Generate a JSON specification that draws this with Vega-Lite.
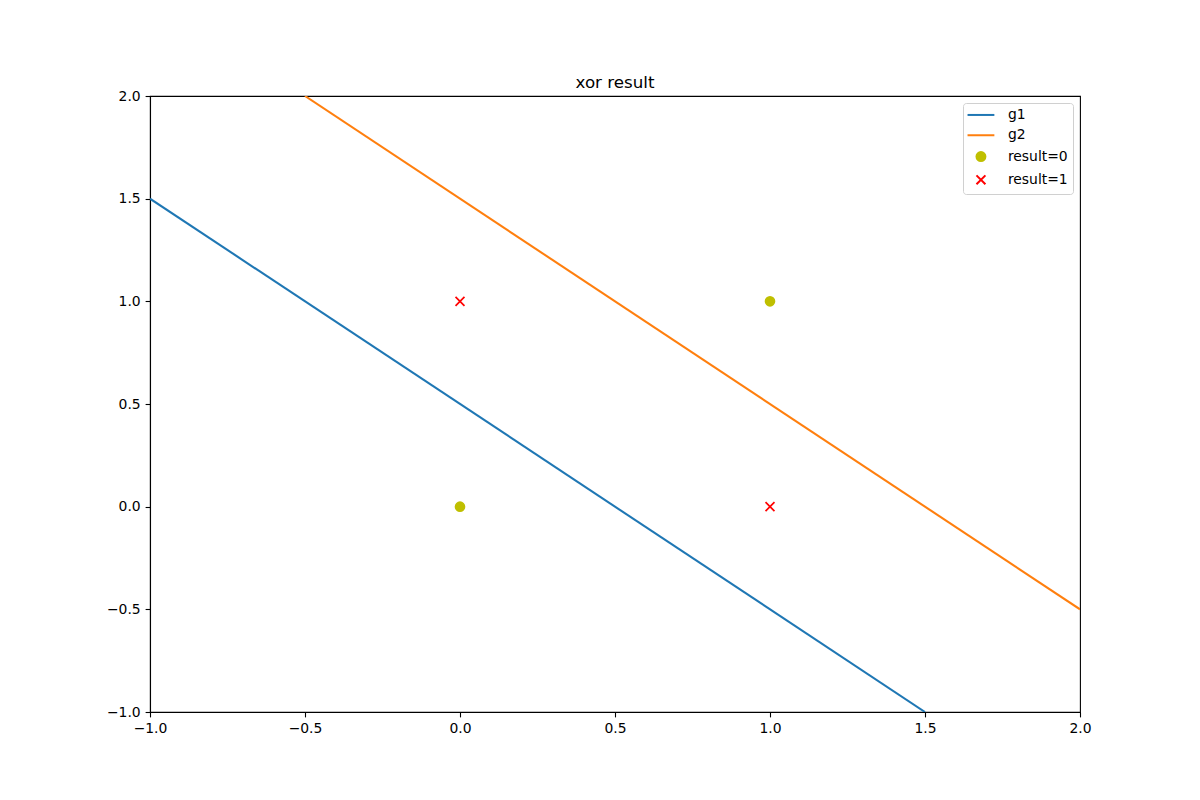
{
  "$schema": "https://vega.github.io/schema/vega-lite/v6.json",
  "autosize": "none",
  "width": 930,
  "height": 616,
  "padding": {"left": 150, "top": 96, "right": 120, "bottom": 88},
  "background": "white",
  "title": {"text": "xor result", "font": "DejaVu Sans", "fontSize": 16.7, "fontWeight": "normal", "color": "black", "offset": -3},
  "datasets": {
    "lines": [
      {"x": -1.0, "y": 1.5, "series": "g1"},
      {"x": 1.5, "y": -1.0, "series": "g1"},
      {"x": -0.5, "y": 2.0, "series": "g2"},
      {"x": 2.0, "y": -0.5, "series": "g2"}
    ],
    "points": [
      {"x": 0, "y": 0, "series": "result=0"},
      {"x": 1, "y": 1, "series": "result=0"},
      {"x": 0, "y": 1, "series": "result=1"},
      {"x": 1, "y": 0, "series": "result=1"}
    ]
  },
  "layer": [
    {
      "data": {"name": "lines"},
      "mark": {"type": "line", "strokeWidth": 2.08, "clip": true},
      "encoding": {
        "x": {"field": "x", "type": "quantitative", "scale": {"domain": [-1, 2], "zero": false},
          "axis": {"values": [-1, -0.5, 0, 0.5, 1, 1.5, 2], "format": ".1f"}},
        "y": {"field": "y", "type": "quantitative", "scale": {"domain": [-1, 2], "zero": false},
          "axis": {"values": [-1, -0.5, 0, 0.5, 1, 1.5, 2], "format": ".1f"}},
        "color": {"field": "series", "type": "nominal", "legend": null,
          "scale": {"domain": ["g1", "g2"], "range": ["#1f77b4", "#ff7f0e"]}}
      }
    },
    {
      "data": {"name": "points"},
      "mark": {"type": "point", "size": 80, "strokeWidth": 1.7, "opacity": 1},
      "encoding": {
        "x": {"field": "x", "type": "quantitative"},
        "y": {"field": "y", "type": "quantitative"},
        "fill": {"field": "series", "type": "nominal", "legend": {"title": null},
          "scale": {"domain": ["g1", "g2", "result=0", "result=1"], "range": ["#1f77b4", "#ff7f0e", "#bfbf00", "#ff0000"]}},
        "stroke": {"field": "series", "type": "nominal", "legend": {"title": null},
          "scale": {"domain": ["g1", "g2", "result=0", "result=1"], "range": ["#1f77b4", "#ff7f0e", "#bfbf00", "#ff0000"]}},
        "shape": {"field": "series", "type": "nominal", "legend": {"title": null},
          "scale": {"domain": ["g1", "g2", "result=0", "result=1"], "range": ["M-3,0H3", "M-3,0H3", "circle", "M-1,-1L1,1M-1,1L1,-1"]}}
      }
    }
  ],
  "config": {
    "view": {"stroke": "black", "strokeWidth": 1.1},
    "axis": {
      "grid": false,
      "title": null,
      "labelFont": "DejaVu Sans",
      "labelFontSize": 13.9,
      "labelColor": "black",
      "tickColor": "black",
      "tickSize": 4.9,
      "tickWidth": 1.1,
      "domainColor": "black",
      "domainWidth": 1.1,
      "labelPadding": 4.9
    },
    "axisX": {"labelFlush": false},
    "axisY": {"labelFlush": false},
    "legend": {
      "orient": "top-right",
      "offset": 7,
      "padding": 5,
      "strokeColor": "#d0d0d0",
      "fillColor": "white",
      "cornerRadius": 3,
      "labelFont": "DejaVu Sans",
      "labelFontSize": 13.9,
      "labelColor": "black",
      "symbolSize": 80,
      "symbolStrokeWidth": 2,
      "symbolOffset": 6,
      "labelOffset": 20,
      "rowPadding": 5.3
    }
  }
}
